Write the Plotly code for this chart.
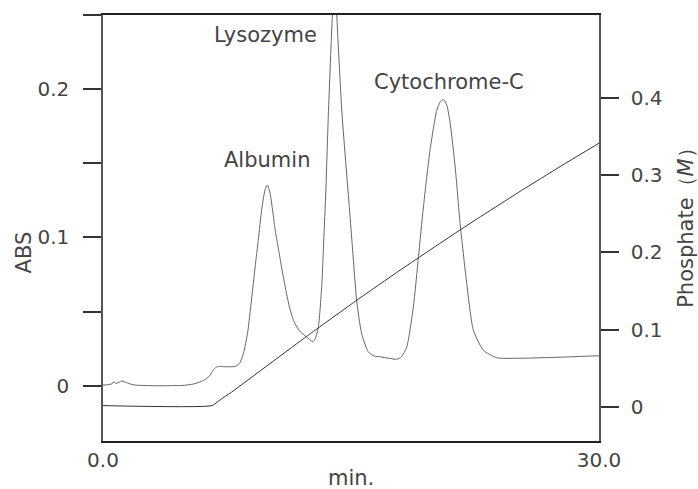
import plotly.graph_objects as go

# Elution time (min) and absorbance of the eluate
abs_time = [0.0, 0.2, 0.42, 0.55, 0.62, 0.75, 0.83, 1.0, 1.13, 1.3, 1.43, 1.7, 1.94,
            3.0, 4.0, 4.84, 5.5, 6.07, 6.4, 6.67, 6.85, 6.98, 7.3, 7.88, 8.1, 8.28,
            8.5, 8.75, 8.98, 9.2, 9.39, 9.6, 9.8, 9.94, 10.1, 10.25, 10.4, 10.6, 10.8,
            11.05, 11.3, 11.6, 11.92, 12.3, 12.69, 12.85, 13.03, 13.24, 13.37, 13.49,
            13.63, 13.87, 13.95, 14.0, 14.06, 14.14, 14.44, 14.9, 15.1, 15.34, 15.64,
            16.04, 16.4, 16.76, 17.3, 17.77, 18.05, 18.37, 18.77, 19.08, 19.38, 19.78,
            20.19, 20.4, 20.6, 20.8, 21.0, 21.3, 21.6, 22.0, 22.4, 23.0, 23.8, 25.1,
            27.0, 30.0]
abs_value = [0.0005, 0.0005, 0.001, 0.0012, 0.0027, 0.0018, 0.0016, 0.0025, 0.0032,
             0.0026, 0.002, 0.001, 0.0004, 0.0, 0.0, 0.0002, 0.0012, 0.0035, 0.006,
             0.0106, 0.0125, 0.013, 0.0128, 0.0128, 0.0135, 0.0155, 0.022, 0.036,
             0.0577, 0.080, 0.098, 0.119, 0.132, 0.1352, 0.130, 0.119, 0.106, 0.093,
             0.080, 0.065, 0.052, 0.042, 0.0365, 0.033, 0.0297, 0.032, 0.040, 0.069,
             0.103, 0.135, 0.183, 0.25, 0.272, 0.278, 0.272, 0.25, 0.186, 0.12,
             0.0914, 0.0577, 0.0353, 0.0229, 0.020, 0.0195, 0.0185, 0.0178, 0.0195,
             0.026, 0.053, 0.087, 0.1206, 0.1588, 0.1858, 0.1915, 0.193, 0.189,
             0.1768, 0.1476, 0.1094, 0.069, 0.0375, 0.024, 0.0189, 0.0185, 0.019, 0.0202]

# Phosphate gradient (M)
grad_time = [0.0, 6.6, 7.18, 7.68, 12.32, 15.24, 17.97, 21.6, 25.23, 27.65, 30.0]
grad_conc = [0.002, 0.002, 0.011, 0.018, 0.0915, 0.1365, 0.177, 0.229, 0.2788, 0.3108, 0.341]

# Peak labels
peak_names = ["Albumin", "Lysozyme", "Cytochrome-C"]
peak_label_x = [9.92, 9.85, 20.9]
peak_label_y = [0.1525, 0.2365, 0.2047]

abs_ticks = [0, 0.05, 0.1, 0.15, 0.2, 0.25]
abs_ticktext = ["0", "", "0.1", "", "0.2", ""]
phos_ticks = [0, 0.1, 0.2, 0.3, 0.4]
phos_ticktext = ["0", "0.1", "0.2", "0.3", "0.4"]
time_ticks = [0, 30]
time_ticktext = ["0.0", "30.0"]

FONT = "DejaVu Sans"
TEXT = "#444444"
TICK_FONT = dict(family=FONT, size=20, color=TEXT)
LABEL_FONT = dict(family=FONT, size=21, color=TEXT)

fig = go.Figure()
fig.add_trace(go.Scatter(
    x=abs_time, y=abs_value, mode="lines",
    line=dict(color="#666666", width=1, shape="spline", smoothing=0.6),
    showlegend=False, hoverinfo="skip"))
fig.add_trace(go.Scatter(
    x=grad_time, y=grad_conc, mode="lines", yaxis="y2",
    line=dict(color="#333333", width=1, shape="spline", smoothing=0.4),
    showlegend=False, hoverinfo="skip"))

for name, px_, py_ in zip(peak_names, peak_label_x, peak_label_y):
    fig.add_annotation(x=px_, y=py_, text=name, showarrow=False, font=LABEL_FONT,
                       xanchor="center", yanchor="middle")

# Axis titles
fig.add_annotation(xref="paper", yref="paper", x=-0.159, y=0.443, text="ABS",
                   textangle=-90, showarrow=False, font=LABEL_FONT,
                   xanchor="center", yanchor="middle")
fig.add_annotation(xref="paper", yref="paper", x=1.175, y=0.514,
                   text="Phosphate（<i>M</i>）", textangle=-90, showarrow=False,
                   font=LABEL_FONT, xanchor="center", yanchor="middle")
fig.add_annotation(xref="paper", yref="paper", x=0.5, y=-0.086, text="min.",
                   showarrow=False, font=LABEL_FONT,
                   xanchor="center", yanchor="middle")

fig.update_layout(
    width=698, height=489,
    margin=dict(l=103, r=99, t=15, b=48, pad=0),
    paper_bgcolor="white", plot_bgcolor="white",
    font=TICK_FONT,
    xaxis=dict(range=[0, 30], tickvals=time_ticks, ticktext=time_ticktext,
               showgrid=False, zeroline=False, showline=True, linecolor="#222222",
               linewidth=1.5, mirror=True, ticks="", ticklabelstandoff=0),
    yaxis=dict(range=[-0.0373, 0.25], tickvals=abs_ticks, ticktext=abs_ticktext,
               showgrid=False, zeroline=False, showline=True, linecolor="#555555",
               linewidth=1.5, ticks="outside", ticklen=18, tickwidth=1.5,
               tickcolor="#333333", ticklabelstandoff=10),
    yaxis2=dict(range=[-0.0437, 0.5066], tickvals=phos_ticks, ticktext=phos_ticktext,
                overlaying="y", side="right", showgrid=False, zeroline=False,
                showline=True, linecolor="#555555", linewidth=1.5,
                ticks="outside", ticklen=18, tickwidth=1.5, tickcolor="#333333",
                ticklabelstandoff=8),
)

fig.write_html("out.html")
